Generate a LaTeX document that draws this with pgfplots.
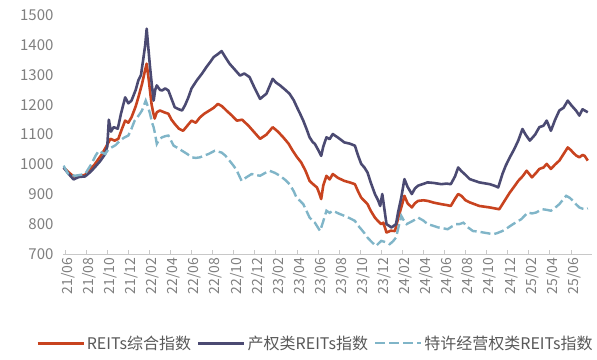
\documentclass[border=0pt]{standalone}
\usepackage{pgfplots}
\pgfplotsset{compat=1.18}
\usepackage{fontspec}
\setmainfont{Noto Sans CJK SC}
\definecolor{cRed}{HTML}{C8431F}
\definecolor{cPur}{HTML}{4B4A72}
\definecolor{cBlu}{HTML}{80B5C8}
\definecolor{cTick}{HTML}{7F7F7F}
\definecolor{cLeg}{HTML}{595959}
\definecolor{cAxis}{HTML}{C8C8C8}
\begin{document}
\begin{tikzpicture}
\begin{axis}[
 scale only axis, width=529pt, height=238.7pt,
 xmin=-0.2, xmax=50, ymin=700, ymax=1500,
 axis lines*=left,
 y axis line style={draw=none},
 x axis line style={cAxis, line width=0.8pt},
 ytick={700,800,...,1500},
 ytick style={draw=none},
 xtick={0,2,...,48},
 xticklabels={21/06,21/08,21/10,21/12,22/02,22/04,22/06,22/08,22/10,22/12,23/02,23/04,23/06,23/08,23/10,23/12,24/02,24/04,24/06,24/08,24/10,24/12,25/02,25/04,25/06},
 xtick align=inside,
 xtick style={cAxis, line width=0.8pt},
 major tick length=4pt,
 xticklabel style={rotate=90, anchor=east, yshift=-3pt, font=\fontsize{14}{14}\selectfont, text=cTick},
 yticklabel style={xshift=-6pt, font=\fontsize{15}{15}\selectfont, text=cTick},
 /pgf/number format/assume math mode=true,
 /pgf/number format/set thousands separator={},
 legend columns=3,
 legend style={draw=none, fill=none, inner sep=0pt, at={(axis description cs:-0.051,-0.374)}, anchor=west,
   font=\fontsize{16}{16}\selectfont, text=cLeg,
   nodes={inner sep=2pt},
   /tikz/every even column/.append style={column sep=4pt}},
 legend image code/.code={\draw[#1] (0pt,0pt) -- (46pt,0pt);},
]
\addplot[cRed, line width=2.6pt, line join=round] table {
-0.15 990
0.3 975
0.8 960
1.3 962
1.9 965
2.4 985
2.8 1000
3.2 1020
3.5 1035
3.9 1060
4.3 1086
4.7 1080
5.05 1086
5.4 1120
5.7 1147
6.0 1140
6.3 1158
6.7 1195
6.95 1225
7.3 1270
7.55 1310
7.74 1338
7.95 1280
8.2 1203
8.35 1175
8.5 1154
8.7 1175
9.0 1181
9.4 1175
9.8 1170
10.1 1150
10.4 1136
10.8 1120
11.2 1113
11.6 1130
12.0 1147
12.4 1140
12.8 1158
13.2 1170
13.7 1181
14.1 1190
14.5 1203
14.9 1195
15.3 1181
15.8 1165
16.3 1147
16.8 1150
17.4 1130
17.9 1110
18.5 1086
19.1 1100
19.7 1125
20.2 1110
20.7 1091
21.2 1070
21.6 1046
22.0 1025
22.4 1007
22.8 980
23.2 945
23.5 935
23.9 923
24.1 905
24.3 884
24.5 930
24.8 962
25.1 950
25.4 968
25.9 955
26.5 945
27.0 940
27.5 934
27.8 910
28.1 889
28.4 878
28.7 867
29.0 845
29.4 822
29.7 810
30.0 800
30.2 805
30.5 772
30.9 778
31.3 777
31.6 820
31.9 856
32.2 895
32.5 870
32.9 856
33.2 870
33.5 878
34.0 880
34.4 878
35.0 872
35.7 867
36.2 864
36.6 861
37.0 885
37.3 901
37.6 895
38.0 880
38.4 873
39.3 861
40.3 856
41.2 850
41.7 878
42.2 906
42.6 925
43.0 945
43.4 960
43.8 979
44.3 957
44.7 972
45.0 985
45.4 990
45.7 1002
46.1 985
46.5 1000
46.9 1013
47.3 1035
47.7 1057
48.0 1048
48.2 1040
48.5 1030
48.8 1024
49.1 1032
49.3 1029
49.6 1013
};
\addlegendentry{REITs综合指数}
\addplot[cPur, line width=2.6pt, line join=round] table {
-0.15 990
0.3 970
0.8 950
1.3 958
1.9 960
2.4 975
2.8 990
3.3 1010
3.8 1035
4.0 1060
4.15 1150
4.35 1110
4.6 1125
5.0 1120
5.3 1170
5.7 1225
6.0 1205
6.3 1214
6.7 1250
6.95 1282
7.2 1300
7.4 1349
7.6 1400
7.74 1455
7.9 1390
8.06 1326
8.25 1260
8.4 1214
8.55 1250
8.7 1265
9.0 1250
9.2 1248
9.5 1255
9.8 1248
10.1 1220
10.4 1192
10.8 1185
11.1 1181
11.4 1200
11.7 1225
12.0 1255
12.5 1282
13.0 1305
13.4 1326
13.8 1345
14.1 1360
14.5 1370
14.85 1380
15.2 1360
15.6 1338
16.1 1318
16.6 1298
17.0 1305
17.5 1293
18.0 1255
18.5 1220
19.1 1237
19.7 1287
20.0 1275
20.4 1265
20.9 1250
21.3 1237
21.7 1215
22.0 1192
22.3 1170
22.6 1147
22.9 1120
23.2 1091
23.5 1075
23.7 1069
24.0 1050
24.3 1029
24.5 1060
24.8 1091
25.1 1085
25.4 1102
25.9 1090
26.5 1074
27.0 1070
27.5 1063
27.8 1030
28.1 1002
28.4 990
28.7 973
29.0 940
29.4 901
29.7 880
29.9 861
30.1 901
30.3 850
30.5 800
30.97 789
31.4 800
31.6 840
31.9 889
32.2 951
32.5 925
32.9 901
33.2 920
33.5 929
34.0 935
34.4 940
35.0 938
35.7 934
36.2 936
36.6 934
37.0 960
37.3 990
37.6 978
38.0 965
38.4 951
39.3 940
40.3 934
40.8 928
41.1 923
41.5 968
41.8 995
42.2 1024
42.6 1050
43.0 1080
43.4 1119
43.7 1100
44.1 1080
44.6 1100
45.0 1125
45.4 1130
45.7 1147
46.1 1113
46.5 1150
46.9 1181
47.3 1190
47.7 1214
48.0 1200
48.2 1192
48.5 1180
48.8 1164
49.1 1185
49.3 1181
49.6 1175
};
\addlegendentry{产权类REITs指数}
\addplot[cBlu, line width=2.4pt, dash pattern=on 10pt off 4pt] table {
-0.15 996
0.3 968
0.95 962
1.4 965
1.9 968
2.2 985
2.5 1002
2.9 1030
3.2 1046
3.5 1040
3.8 1035
4.1 1050
4.4 1057
4.8 1065
5.2 1080
5.6 1090
6.0 1097
6.3 1120
6.6 1147
7.0 1165
7.3 1181
7.65 1214
7.85 1195
8.06 1170
8.25 1140
8.4 1125
8.55 1100
8.7 1069
8.95 1085
9.2 1091
9.5 1095
9.8 1097
10.3 1063
10.7 1055
11.1 1046
11.6 1035
12.0 1024
12.4 1022
12.8 1024
13.2 1030
13.6 1035
14.2 1046
14.85 1040
15.2 1030
15.6 1013
16.0 995
16.3 979
16.75 945
17.2 957
17.7 968
18.1 965
18.5 962
19.0 972
19.4 979
19.9 972
20.4 962
20.9 948
21.3 934
21.7 910
21.96 889
22.3 878
22.6 867
22.9 845
23.2 822
23.7 805
24.2 777
24.5 810
24.8 845
25.1 838
25.4 845
26.0 835
26.5 828
27.0 820
27.5 811
27.8 795
28.1 783
28.4 770
28.7 755
29.1 740
29.5 727
30.0 744
30.4 740
30.8 733
31.1 742
31.4 755
31.9 828
32.1 815
32.4 800
33.0 811
33.5 822
34.0 812
34.4 800
34.9 795
35.4 789
35.9 786
36.3 783
36.7 792
37.1 800
37.4 800
37.8 805
38.2 790
38.7 777
39.2 775
39.7 772
40.2 769
40.6 766
41.0 770
41.5 777
42.0 788
42.5 800
42.9 808
43.3 817
43.9 839
44.3 836
44.7 839
45.0 845
45.3 850
45.7 848
46.1 845
46.5 855
46.9 867
47.2 880
47.55 895
47.9 888
48.2 878
48.5 866
48.8 856
49.1 852
49.4 850
49.6 853
};
\addlegendentry{特许经营权类REITs指数}
\end{axis}
\pgfresetboundingbox
\path ([shift={(-63pt,-106pt)}]current axis.south west) rectangle ([shift={(5pt,15.3pt)}]current axis.north east);
\end{tikzpicture}
\end{document}
